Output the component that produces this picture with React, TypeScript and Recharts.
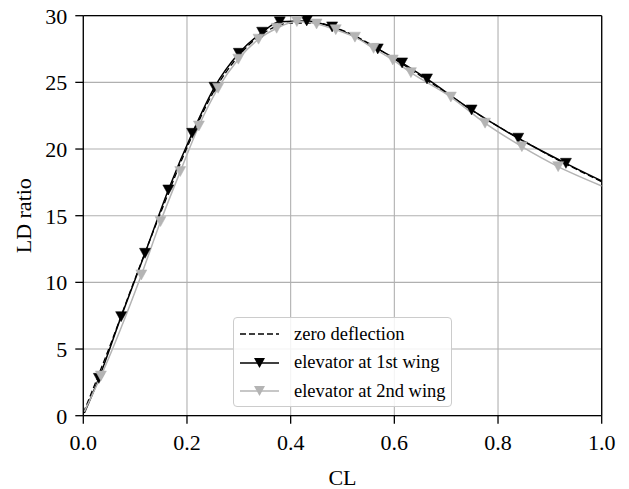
import { LineChart, Line, XAxis, YAxis, CartesianGrid, Legend, ReferenceLine } from 'recharts'

const FONT = '"Liberation Serif", "DejaVu Serif", serif'
const GREY = '#b4b4b4'

// zero deflection (dashed)
const clZero = [0.0, 0.05, 0.1, 0.15, 0.2, 0.25, 0.3, 0.35, 0.4, 0.45, 0.5, 0.55, 0.6, 0.65, 0.7, 0.75, 0.8, 0.85, 0.9, 0.95, 1.0]
const ldZero = [0.2, 5.1, 10.3, 15.3, 20.1, 24.2, 27.0, 28.75, 29.45, 29.45, 28.9, 27.95, 26.75, 25.5, 24.2, 22.9, 21.7, 20.6, 19.5, 18.5, 17.55]

// elevator at 1st wing (first and last point carry no marker)
const clFirst = [0.002, 0.030, 0.073, 0.119, 0.164, 0.210, 0.253, 0.300, 0.345, 0.379, 0.431, 0.480, 0.568, 0.615, 0.663, 0.749, 0.839, 0.931, 1.0]
const ldFirst = [0.2, 2.80, 7.43, 12.18, 16.93, 21.18, 24.63, 27.18, 28.76, 29.54, 29.61, 29.16, 27.51, 26.46, 25.26, 22.93, 20.81, 18.93, 17.61]

// elevator at 2nd wing
const clSecond = [0.002, 0.034, 0.112, 0.149, 0.187, 0.223, 0.260, 0.299, 0.338, 0.373, 0.412, 0.450, 0.487, 0.524, 0.560, 0.597, 0.632, 0.709, 0.775, 0.846, 0.916, 1.0]
const ldSecond = [0.3, 2.98, 10.56, 14.56, 18.31, 21.73, 24.56, 26.74, 28.24, 29.06, 29.56, 29.38, 28.95, 28.39, 27.55, 26.68, 25.73, 23.9, 21.94, 20.18, 18.68, 17.23]

const xTicks = [0, 0.2, 0.4, 0.6, 0.8, 1.0]
const yTicks = [0, 5, 10, 15, 20, 25, 30]

const build = (cl: number[], ld: number[]) =>
  cl.map((x, i) => ({ x, y: ld[i], mark: i > 0 && i < cl.length - 1 }))

const zeroData = build(clZero, ldZero)
const firstData = build(clFirst, ldFirst)
const secondData = build(clSecond, ldSecond)

function triangle(props: any, color: string) {
  const { cx, cy, payload, index } = props
  if (!payload?.mark || cx == null || cy == null) return <g key={`n-${index}`} />
  const w = 5.5
  const h = 5
  return (
    <path
      key={`t-${index}`}
      d={`M${cx - w},${cy - h}L${cx + w},${cy - h}L${cx},${cy + h}Z`}
      fill={color}
      stroke={color}
      strokeWidth={0.5}
    />
  )
}

function LegendBox() {
  const rows = [
    { label: 'zero deflection', color: '#000', dash: '6 3', marker: false },
    { label: 'elevator at 1st wing', color: '#000', dash: undefined, marker: true },
    { label: 'elevator at 2nd wing', color: GREY, dash: undefined, marker: true },
  ]
  return (
    <div
      style={{
        width: 219,
        height: 90,
        boxSizing: 'border-box',
        border: '1px solid #cccccc',
        borderRadius: 4,
        background: 'rgba(255,255,255,0.85)',
        fontFamily: FONT,
        fontSize: 18.5,
        color: '#000',
        paddingTop: 2,
      }}
    >
      {rows.map((r) => (
        <div key={r.label} style={{ display: 'flex', alignItems: 'center', height: 28.5 }}>
          <svg width={60} height={20} style={{ flex: 'none' }}>
            <line x1={6} x2={45} y1={10} y2={10} stroke={r.color} strokeWidth={1.5} strokeDasharray={r.dash} />
            {r.marker && <path d="M20,5L31,5L25.5,15Z" fill={r.color} />}
          </svg>
          <span style={{ whiteSpace: 'nowrap' }}>{r.label}</span>
        </div>
      ))}
    </div>
  )
}

export default function App() {
  const axisLine = { stroke: '#000', strokeWidth: 1.3 }
  const tick = { fill: '#000', fontSize: 22, fontFamily: FONT }
  return (
    <div style={{ position: 'absolute', left: 0, top: 0, background: '#fff', fontFamily: FONT }}>
      <LineChart
        width={629}
        height={489}
        margin={{ top: 15.7, right: 27.3, bottom: 0, left: 0 }}
        style={{ fontFamily: FONT }}
      >
        <CartesianGrid stroke="#b0b0b0" strokeWidth={1.1} />
        <XAxis
          dataKey="x"
          type="number"
          domain={[0, 1]}
          ticks={xTicks}
          tickFormatter={(v: number) => v.toFixed(1)}
          allowDataOverflow
          height={73.3}
          tick={tick}
          tickSize={8}
          tickMargin={11}
          axisLine={axisLine}
          tickLine={axisLine}
          label={{ value: 'CL', position: 'insideBottom', offset: 4, fill: '#000', fontSize: 22, fontFamily: FONT }}
        />
        <YAxis
          dataKey="y"
          type="number"
          domain={[0, 30]}
          ticks={yTicks}
          allowDataOverflow
          width={83.3}
          tick={tick}
          tickSize={8}
          tickMargin={8}
          axisLine={axisLine}
          tickLine={axisLine}
          label={{
            value: 'LD ratio',
            angle: -90,
            position: 'insideLeft',
            offset: 23,
            fill: '#000',
            fontSize: 22,
            fontFamily: FONT,
            style: { textAnchor: 'middle' },
          }}
        />
        <ReferenceLine y={30} stroke="#000" strokeWidth={1.3} />
        <ReferenceLine x={1} stroke="#000" strokeWidth={1.3} />
        <Line
          data={zeroData}
          dataKey="y"
          type="monotone"
          stroke="#000"
          strokeWidth={1.3}
          strokeDasharray="6 3"
          dot={false}
          isAnimationActive={false}
        />
        <Line
          data={firstData}
          dataKey="y"
          type="monotone"
          stroke="#000"
          strokeWidth={1.5}
          dot={(p: any) => triangle(p, '#000')}
          activeDot={false}
          isAnimationActive={false}
        />
        <Line
          data={secondData}
          dataKey="y"
          type="monotone"
          stroke={GREY}
          strokeWidth={1.5}
          dot={(p: any) => triangle(p, GREY)}
          activeDot={false}
          isAnimationActive={false}
        />
        <Legend
          layout="vertical"
          align="center"
          verticalAlign="middle"
          wrapperStyle={{ left: 233, top: 317, width: 219, height: 90 }}
          content={() => <LegendBox />}
        />
      </LineChart>
    </div>
  )
}
